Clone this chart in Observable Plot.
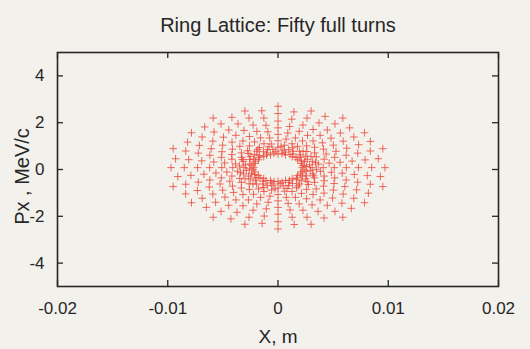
<!DOCTYPE html>
<html>
<head>
<meta charset="utf-8">
<script src="https://cdn.jsdelivr.net/npm/d3@7"></script>
<script src="https://cdn.jsdelivr.net/npm/@observablehq/plot@0.6"></script>
<style>
  html, body { margin: 0; padding: 0; background: #f3f1ec; }
  #chart { width: 530px; height: 349px; }
</style>
</head>
<body>
<div id="chart"></div>
<script>
const title = "Ring Lattice: Fifty full turns";
const xLabel = "X, m";
const yLabel = "Px , MeV/c";
const xTicks = [-0.02, -0.01, 0, 0.01, 0.02];
const yTicks = [-4, -2, 0, 2, 4];

// X positions (m) of the tracked particles
const xs = [
  0.0022,0.0031,0.0041,0.0051,0.0062,0.0073,0.0085,0.0097,
  0.00227,0.00287,0.00366,0.00464,0.00563,0.00672,0.00790,0.00909,
  0.00209,0.00314,0.00418,0.00514,0.00618,0.00723,0.00837,0.00951,
  0.00214,0.00267,0.00347,0.00437,0.00526,0.00624,0.00731,0.00838,
  0.00178,0.00251,0.00332,0.00413,0.00502,0.00591,0.00688,0.00785,
  0.00163,0.00205,0.00262,0.00332,0.00403,0.00481,0.00566,0.00650,
  0.00129,0.00194,0.00259,0.00318,0.00382,0.00447,0.00517,0.00588,
  0.00109,0.00136,0.00177,0.00222,0.00268,0.00318,0.00372,0.00427,
  0.00068,0.00096,0.00127,0.00158,0.00192,0.00226,0.00263,0.00300,
  0.00036,0.00045,0.00058,0.00073,0.00089,0.00106,0.00125,0.00144,
  0,0,0,0,0,0,0,0,
  -0.00037,-0.00047,-0.00061,-0.00076,-0.00092,-0.00109,-0.00128,-0.00147,
  -0.00068,-0.00096,-0.00127,-0.00158,-0.00192,-0.00226,-0.00263,-0.00300,
  -0.00104,-0.00132,-0.00168,-0.00213,-0.00259,-0.00309,-0.00363,-0.00418,
  -0.00129,-0.00194,-0.00259,-0.00318,-0.00382,-0.00447,-0.00517,-0.00588,
  -0.00170,-0.00212,-0.00276,-0.00346,-0.00417,-0.00495,-0.00580,-0.00665,
  -0.00178,-0.00251,-0.00332,-0.00413,-0.00502,-0.00591,-0.00688,-0.00785,
  -0.00205,-0.00258,-0.00330,-0.00419,-0.00508,-0.00606,-0.00713,-0.00820,
  -0.00209,-0.00314,-0.00418,-0.00514,-0.00618,-0.00723,-0.00837,-0.00951,
  -0.00237,-0.00296,-0.00385,-0.00484,-0.00583,-0.00692,-0.00810,-0.00929,
  -0.0022,-0.0031,-0.0041,-0.0051,-0.0062,-0.0073,-0.0085,-0.0097,
  -0.00227,-0.00287,-0.00366,-0.00464,-0.00563,-0.00672,-0.00790,-0.00909,
  -0.00209,-0.00314,-0.00418,-0.00514,-0.00618,-0.00723,-0.00837,-0.00951,
  -0.00214,-0.00267,-0.00347,-0.00437,-0.00526,-0.00624,-0.00731,-0.00838,
  -0.00178,-0.00251,-0.00332,-0.00413,-0.00502,-0.00591,-0.00688,-0.00785,
  -0.00163,-0.00205,-0.00262,-0.00332,-0.00403,-0.00481,-0.00566,-0.00650,
  -0.00129,-0.00194,-0.00259,-0.00318,-0.00382,-0.00447,-0.00517,-0.00588,
  -0.00109,-0.00136,-0.00177,-0.00222,-0.00268,-0.00318,-0.00372,-0.00427,
  -0.00068,-0.00096,-0.00127,-0.00158,-0.00192,-0.00226,-0.00263,-0.00300,
  -0.00036,-0.00045,-0.00058,-0.00073,-0.00089,-0.00106,-0.00125,-0.00144,
  0,0,0,0,0,0,0,0,
  0.00037,0.00047,0.00061,0.00076,0.00092,0.00109,0.00128,0.00147,
  0.00068,0.00096,0.00127,0.00158,0.00192,0.00226,0.00263,0.00300,
  0.00104,0.00132,0.00168,0.00213,0.00259,0.00309,0.00363,0.00418,
  0.00129,0.00194,0.00259,0.00318,0.00382,0.00447,0.00517,0.00588,
  0.00170,0.00212,0.00276,0.00346,0.00417,0.00495,0.00580,0.00665,
  0.00178,0.00251,0.00332,0.00413,0.00502,0.00591,0.00688,0.00785,
  0.00205,0.00258,0.00330,0.00419,0.00508,0.00606,0.00713,0.00820,
  0.00209,0.00314,0.00418,0.00514,0.00618,0.00723,0.00837,0.00951,
  0.00237,0.00296,0.00385,0.00484,0.00583,0.00692,0.00810,0.00929,
  // dense crosses hugging the central hole
  0.00259,0.00340,0.00240,0.00299,0.00198,0.00227,0.00136,0.00134,0.00061,0.00027,
  -0.00020,-0.00082,-0.00100,-0.00183,-0.00169,-0.00266,-0.00222,-0.00323,-0.00253,-0.00349,
  -0.00259,-0.00340,-0.00240,-0.00299,-0.00198,-0.00227,-0.00136,-0.00134,-0.00061,-0.00027,
  0.00020,0.00082,0.00100,0.00183,0.00169,0.00266,0.00222,0.00323,0.00253,0.00349
];

// Px values (MeV/c), same order as xs
const pxs = [
  0.08,0.08,0.08,0.08,0.08,0.08,0.08,0.08,
  0.17,0.20,0.23,0.27,0.31,0.36,0.41,0.46,
  0.26,0.35,0.44,0.52,0.61,0.70,0.79,0.89,
  0.37,0.44,0.54,0.66,0.78,0.91,1.06,1.20,
  0.42,0.56,0.71,0.87,1.04,1.21,1.39,1.57,
  0.51,0.62,0.77,0.95,1.14,1.34,1.56,1.78,
  0.55,0.78,1.01,1.22,1.46,1.69,1.95,2.20,
  0.64,0.78,0.99,1.22,1.46,1.71,1.99,2.27,
  0.63,0.85,1.10,1.35,1.63,1.90,2.20,2.50,
  0.68,0.83,1.04,1.30,1.56,1.84,2.15,2.46,
  0.66,0.95,1.23,1.50,1.78,2.07,2.39,2.70,
  0.70,0.86,1.09,1.35,1.61,1.89,2.20,2.51,
  0.63,0.85,1.10,1.35,1.63,1.90,2.20,2.50,
  0.62,0.76,0.94,1.18,1.41,1.67,1.95,2.23,
  0.55,0.78,1.01,1.22,1.46,1.69,1.95,2.20,
  0.52,0.64,0.80,0.99,1.17,1.38,1.60,1.82,
  0.42,0.56,0.71,0.87,1.04,1.21,1.39,1.57,
  0.35,0.43,0.52,0.64,0.76,0.89,1.03,1.17,
  0.26,0.35,0.44,0.52,0.61,0.70,0.79,0.89,
  0.18,0.20,0.24,0.28,0.32,0.37,0.42,0.46,
  0.08,0.08,0.08,0.08,0.08,0.08,0.08,0.08,
  -0.01,-0.04,-0.07,-0.11,-0.15,-0.20,-0.25,-0.30,
  -0.10,-0.19,-0.28,-0.36,-0.45,-0.54,-0.63,-0.73,
  -0.21,-0.28,-0.38,-0.50,-0.62,-0.75,-0.90,-1.04,
  -0.26,-0.40,-0.55,-0.71,-0.88,-1.05,-1.23,-1.42,
  -0.35,-0.46,-0.61,-0.79,-0.98,-1.18,-1.40,-1.62,
  -0.39,-0.62,-0.85,-1.07,-1.30,-1.53,-1.79,-2.04,
  -0.48,-0.62,-0.83,-1.06,-1.30,-1.55,-1.83,-2.11,
  -0.47,-0.69,-0.94,-1.19,-1.47,-1.74,-2.04,-2.34,
  -0.52,-0.67,-0.88,-1.14,-1.40,-1.68,-1.99,-2.30,
  -0.50,-0.79,-1.07,-1.34,-1.62,-1.91,-2.23,-2.54,
  -0.54,-0.70,-0.93,-1.19,-1.45,-1.73,-2.04,-2.35,
  -0.47,-0.69,-0.94,-1.19,-1.47,-1.74,-2.04,-2.34,
  -0.46,-0.60,-0.78,-1.02,-1.25,-1.51,-1.79,-2.07,
  -0.39,-0.62,-0.85,-1.07,-1.30,-1.53,-1.79,-2.04,
  -0.36,-0.48,-0.64,-0.83,-1.01,-1.22,-1.44,-1.66,
  -0.26,-0.40,-0.55,-0.71,-0.88,-1.05,-1.23,-1.42,
  -0.19,-0.27,-0.36,-0.48,-0.60,-0.73,-0.87,-1.01,
  -0.10,-0.19,-0.28,-0.36,-0.45,-0.54,-0.63,-0.73,
  -0.02,-0.04,-0.08,-0.12,-0.16,-0.21,-0.26,-0.30,
  // dense crosses hugging the central hole
  0.13,0.29,0.34,0.56,0.52,0.78,0.66,0.93,0.74,0.99,
  0.76,0.97,0.71,0.86,0.60,0.68,0.44,0.43,0.24,0.15,
  0.03,-0.13,-0.18,-0.40,-0.36,-0.62,-0.50,-0.77,-0.58,-0.83,
  -0.60,-0.81,-0.55,-0.70,-0.44,-0.52,-0.28,-0.27,-0.08,0.01
];

const points = xs.map((x, i) => ({x, px: pxs[i]}));
const fmt = d => String(d);
const font = "Liberation Sans, Arial, sans-serif";
const ink = "#262626";

const W = 530, H = 349;
const mL = 57, mR = 32, mT = 52, mB = 63;
const frameW = W - mL - mR, frameH = H - mT - mB;
const tickLen = 6;

const chart = Plot.plot({
  width: W,
  height: H,
  marginLeft: mL,
  marginRight: mR,
  marginTop: mT,
  marginBottom: mB,
  style: {background: "#f3f1ec", fontFamily: font, color: ink},
  x: {domain: [-0.02, 0.02], ticks: xTicks, tickFormat: fmt},
  y: {domain: [-5, 5], ticks: yTicks, tickFormat: fmt},
  marks: [
    Plot.dot(points, {x: "x", y: "px", symbol: "plus", r: 2.6, stroke: "#ec4a3c", strokeWidth: 0.9, strokeOpacity: 0.9}),
    Plot.frame({stroke: ink, strokeWidth: 1.6}),
    // inward ticks on all four sides
    Plot.tickX(xTicks, {x: d => d, insetTop: frameH - tickLen, stroke: ink, strokeWidth: 1.3}),
    Plot.tickX(xTicks, {x: d => d, insetBottom: frameH - tickLen, stroke: ink, strokeWidth: 1.3}),
    Plot.tickY(yTicks, {y: d => d, insetRight: frameW - tickLen, stroke: ink, strokeWidth: 1.3}),
    Plot.tickY(yTicks, {y: d => d, insetLeft: frameW - tickLen, stroke: ink, strokeWidth: 1.3}),
    Plot.axisX({anchor: "bottom", ticks: xTicks, tickSize: 0, tickPadding: 15, fontSize: 17, tickFormat: fmt, label: null, fill: ink}),
    Plot.axisY({anchor: "left", ticks: yTicks, tickSize: 0, tickPadding: 13, fontSize: 17, tickFormat: fmt, label: null, fill: ink}),
    Plot.text([xLabel], {text: d => d, frameAnchor: "bottom", dy: 56, fontSize: 19, fill: ink}),
    Plot.text([yLabel], {text: d => d, frameAnchor: "left", textAnchor: "middle", rotate: -90, dx: -35, dy: 7, fontSize: 20, fill: ink}),
    Plot.text([title], {text: d => d, frameAnchor: "top", dy: -35, fontSize: 20, fill: ink})
  ]
});
document.getElementById("chart").appendChild(chart);
</script>
</body>
</html>
